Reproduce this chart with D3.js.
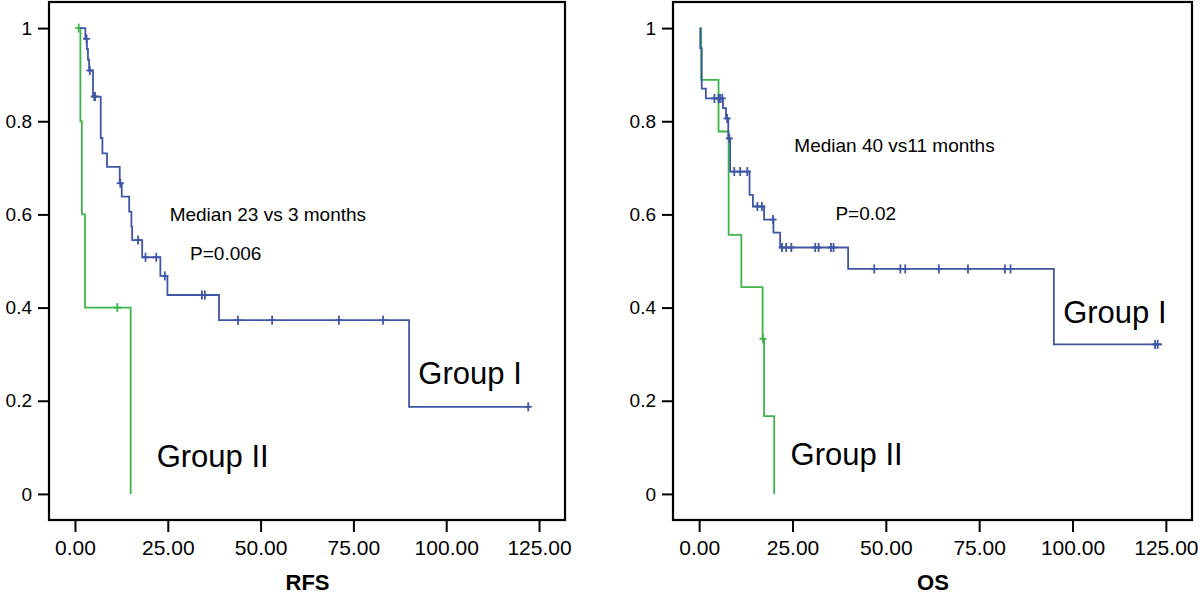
<!DOCTYPE html>
<html>
<head>
<meta charset="utf-8">
<script src="https://cdn.jsdelivr.net/npm/d3@7"></script>
<style>
  html, body { margin: 0; padding: 0; background: #fff; }
  svg { display: block; font-family: "Liberation Sans", Arial, Helvetica, sans-serif; }
</style>
</head>
<body>
<svg id="chart" width="1200" height="595"></svg>
<script>
// ---------------- data ----------------
const xTickValues = [0, 25, 50, 75, 100, 125];
const yTickValues = [0, 0.2, 0.4, 0.6, 0.8, 1];
const panelTitles = ["RFS", "OS"];

// RFS, Group I
const rfsG1Start = 1.3;
const rfsG1End = 122.5;
const rfsG1Times = [2.8, 3.2, 3.5, 3.8, 4.85, 6.93, 7.39, 8.63, 12.05, 12.6, 14.6, 15.2, 15.4, 18.1, 23.0, 24.9, 38.8, 90.0];
const rfsG1Surv  = [0.977, 0.955, 0.932, 0.909, 0.853, 0.764, 0.731, 0.702, 0.667, 0.638, 0.606, 0.574, 0.545, 0.508, 0.468, 0.427, 0.373, 0.187];
const rfsG1Censor = [3.1, 4.0, 5.2, 5.4, 12.2, 17.0, 19.0, 21.9, 24.2, 34.2, 35.0, 43.9, 53.1, 71.1, 83.0, 122.1];

// RFS, Group II
const rfsG2Start = 1.0;
const rfsG2End = 15.0;
const rfsG2Times = [1.46, 1.85, 2.7, 15.0];
const rfsG2Surv  = [0.8, 0.6, 0.4, 0.0];
const rfsG2Censor = [1.0, 11.4];

// OS, Group I
const osG1Start = 0.2;
const osG1End = 124.0;
const osG1Times = [0.3, 0.7, 1.8, 6.4, 7.2, 7.8, 8.3, 13.5, 14.4, 17.4, 19.9, 21.7, 39.9, 95.0];
const osG1Surv  = [0.957, 0.870, 0.849, 0.828, 0.806, 0.763, 0.692, 0.642, 0.617, 0.589, 0.561, 0.529, 0.483, 0.321];
const osG1Censor = [4.1, 5.2, 5.6, 6.2, 7.5, 8.1, 9.4, 11.0, 12.9, 15.6, 16.8, 19.8, 22.2, 23.3, 24.7, 31.1, 32.0, 35.3, 36.0, 46.9, 53.9, 55.2, 64.2, 72.0, 81.9, 83.4, 122.1, 122.8];

// OS, Group II
const osG2Start = 0.45;
const osG2End = 20.1;
const osG2Times = [0.55, 5.2, 7.9, 11.3, 17.0, 17.4, 20.1];
const osG2Surv  = [0.889, 0.778, 0.556, 0.444, 0.333, 0.167, 0.0];
const osG2Censor = [17.1];

const annotations = [
  [{text: "Median 23 vs 3 months", t: 25.5, s: 0.585}, {text: "P=0.006", t: 31, s: 0.502}, {text: "Group I", t: 92.5, s: 0.237, big: true}, {text: "Group II", t: 22, s: 0.057, big: true}],
  [{text: "Median 40 vs11 months", t: 25.5, s: 0.735}, {text: "P=0.02", t: 36.5, s: 0.587}, {text: "Group I", t: 97.5, s: 0.367, big: true}, {text: "Group II", t: 24.5, s: 0.062, big: true}]
];

const blue = "#3f56a6";
const green = "#3db54a";

// ---------------- drawing ----------------
const svg = d3.select("#chart");
const panels = [
  {x0: 49, x1: 565, title: panelTitles[0],
   curves: [
     {start: rfsG2Start, end: rfsG2End, times: rfsG2Times, surv: rfsG2Surv, censor: rfsG2Censor, color: green},
     {start: rfsG1Start, end: rfsG1End, times: rfsG1Times, surv: rfsG1Surv, censor: rfsG1Censor, color: blue}
   ]},
  {x0: 673, x1: 1192, title: panelTitles[1],
   curves: [
     {start: osG2Start, end: osG2End, times: osG2Times, surv: osG2Surv, censor: osG2Censor, color: green},
     {start: osG1Start, end: osG1End, times: osG1Times, surv: osG1Surv, censor: osG1Censor, color: blue}
   ]}
];
const yTop = 2, yBottom = 520;
const y = d3.scaleLinear().domain([-0.056, 1.056]).range([yBottom, yTop]);

panels.forEach((p, pi) => {
  const x = d3.scaleLinear().domain([-7, 132]).range([p.x0, p.x1]);
  const g = svg.append("g");

  // x axis
  const xAxis = g.append("g").attr("transform", `translate(0,${yBottom})`)
    .call(d3.axisBottom(x).tickValues(xTickValues).tickFormat(d3.format(".2f")).tickSize(12).tickPadding(8));
  xAxis.select(".domain").remove();
  xAxis.selectAll(".tick line").attr("stroke", "#000").attr("stroke-width", 2);
  xAxis.selectAll(".tick text").attr("font-size", 21).attr("fill", "#000").attr("font-family", "Liberation Sans, Arial, sans-serif");

  // y axis
  const yAxis = g.append("g").attr("transform", `translate(${p.x0},0)`)
    .call(d3.axisLeft(y).tickValues(yTickValues).tickFormat(d => (d === 0 || d === 1) ? String(d) : d.toFixed(1)).tickSize(11).tickPadding(6));
  yAxis.select(".domain").remove();
  yAxis.selectAll(".tick line").attr("stroke", "#000").attr("stroke-width", 2);
  yAxis.selectAll(".tick text").attr("font-size", 19).attr("fill", "#000").attr("font-family", "Liberation Sans, Arial, sans-serif");

  // frame
  g.append("rect").attr("x", p.x0).attr("y", yTop).attr("width", p.x1 - p.x0).attr("height", yBottom - yTop)
    .attr("fill", "none").attr("stroke", "#000").attr("stroke-width", 2.2);

  // axis title
  g.append("text").attr("x", (p.x0 + p.x1) / 2 + 0.5).attr("y", 590).attr("text-anchor", "middle")
    .attr("font-size", 22).attr("font-weight", "bold").text(p.title);

  // curves
  const line = d3.line().x(d => x(d[0])).y(d => y(d[1])).curve(d3.curveStepAfter);
  p.curves.forEach(c => {
    const pts = [[c.start, 1]];
    c.times.forEach((t, i) => pts.push([t, c.surv[i]]));
    const last = c.surv[c.surv.length - 1];
    if (c.end > c.times[c.times.length - 1]) pts.push([c.end, last]);
    g.append("path").attr("d", line(pts)).attr("fill", "none").attr("stroke", c.color).attr("stroke-width", 1.8);

    const survAt = t => {
      let s = 1;
      c.times.forEach((tt, i) => { if (tt <= t) s = c.surv[i]; });
      return s;
    };
    c.censor.forEach(t => {
      const cx = x(t), cy = y(survAt(t));
      g.append("line").attr("x1", cx).attr("x2", cx).attr("y1", cy - 4.5).attr("y2", cy + 4.5)
        .attr("stroke", c.color).attr("stroke-width", 1.8);
      g.append("line").attr("x1", cx - 3.5).attr("x2", cx + 3.5).attr("y1", cy).attr("y2", cy)
        .attr("stroke", c.color).attr("stroke-width", 1.8);
    });
  });

  // annotations
  annotations[pi].forEach(a => {
    g.append("text").attr("x", x(a.t)).attr("y", y(a.s))
      .attr("font-size", a.big ? 31 : 19).attr("fill", "#000").text(a.text);
  });
});
</script>
</body>
</html>
